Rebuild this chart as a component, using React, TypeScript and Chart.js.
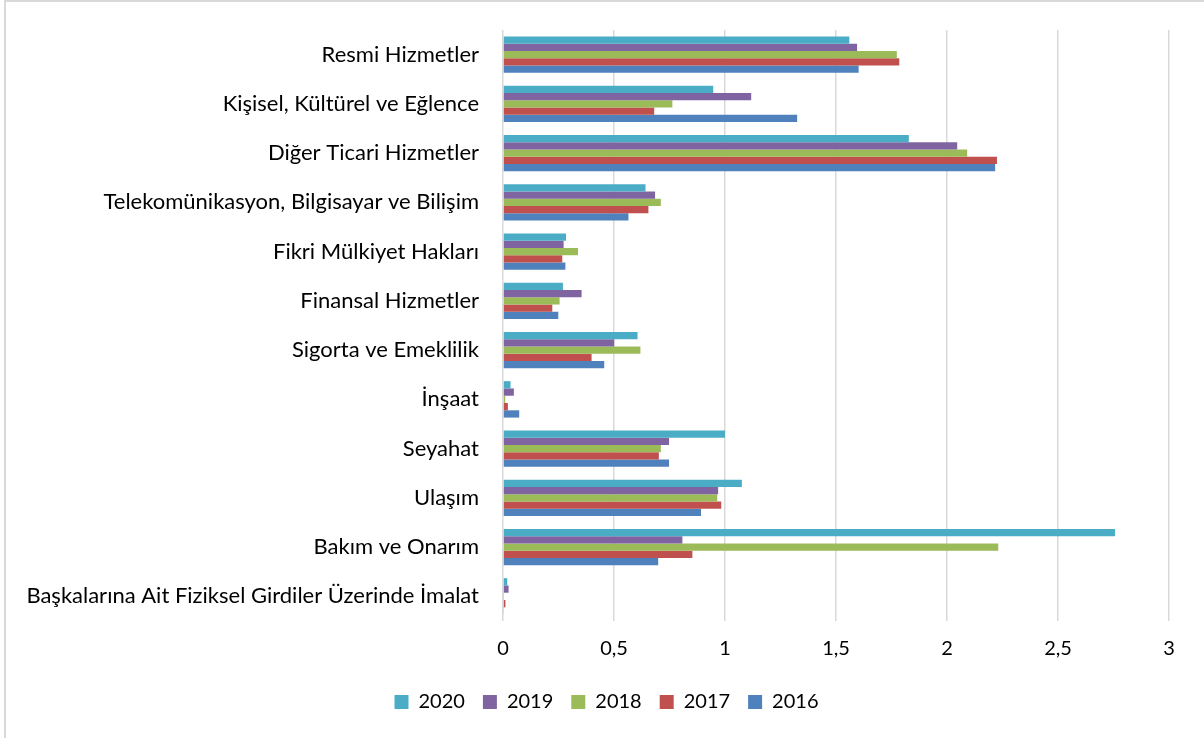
import React, { useEffect, useRef } from "react";
import { Chart, registerables } from "chart.js";

Chart.register(...registerables);

const categories = [
  "Resmi Hizmetler",
  "Kişisel, Kültürel ve Eğlence",
  "Diğer Ticari Hizmetler",
  "Telekomünikasyon, Bilgisayar ve Bilişim",
  "Fikri Mülkiyet Hakları",
  "Finansal Hizmetler",
  "Sigorta ve Emeklilik",
  "İnşaat",
  "Seyahat",
  "Ulaşım",
  "Bakım ve Onarım",
  "Başkalarına Ait Fiziksel Girdiler Üzerinde İmalat",
];

const years = ["2020", "2019", "2018", "2017", "2016"];

const v2020 = [1.56, 0.947, 1.828, 0.642, 0.284, 0.27, 0.606, 0.034, 1.0, 1.076, 2.757, 0.019];
const v2019 = [1.595, 1.118, 2.046, 0.685, 0.273, 0.354, 0.501, 0.049, 0.748, 0.969, 0.808, 0.025];
const v2018 = [1.774, 0.763, 2.091, 0.711, 0.338, 0.255, 0.619, 0.01, 0.711, 0.965, 2.231, 0.002];
const v2017 = [1.785, 0.681, 2.225, 0.655, 0.267, 0.222, 0.399, 0.022, 0.702, 0.983, 0.853, 0.011];
const v2016 = [1.602, 1.325, 2.217, 0.565, 0.281, 0.249, 0.456, 0.073, 0.748, 0.892, 0.699, 0.004];

const seriesValues = [v2020, v2019, v2018, v2017, v2016];
const colors = ["#4BACC6", "#8064A2", "#9BBB59", "#C0504D", "#4F81BD"];

const FONT = "Lato, 'Open Sans', sans-serif";

const legendShift = {
  id: "legendShift",
  afterLayout(chart: any) {
    const lg = chart.legend;
    if (lg) {
      lg.left += 22;
      lg.right += 22;
    }
  },
};

export default function App() {
  const ref = useRef<HTMLCanvasElement | null>(null);

  useEffect(() => {
    if (!ref.current) return;
    const chart = new Chart(ref.current, {
      type: "bar",
      data: {
        labels: categories,
        datasets: years.map((y, i) => ({
          label: y,
          data: seriesValues[i],
          backgroundColor: colors[i],
          borderWidth: 0,
          categoryPercentage: 0.74,
          barPercentage: 1.0,
        })),
      },
      plugins: [legendShift],
      options: {
        indexAxis: "y",
        animation: false,
        responsive: false,
        maintainAspectRatio: false,
        layout: { padding: { top: 30, right: 35, bottom: 16, left: 0 } },
        scales: {
          x: {
            min: 0,
            max: 3,
            ticks: {
              stepSize: 0.5,
              color: "#000",
              font: { family: FONT, size: 20 },
              padding: 16,
              callback: (v: any) => String(v).replace(".", ","),
            },
            grid: { color: "#D9D9D9", lineWidth: 1.5, drawTicks: false },
            border: { display: false },
            afterFit: (scale: any) => {
              scale.height = 53;
            },
          },
          y: {
            ticks: {
              color: "#000",
              font: { family: FONT, size: 22 },
              padding: 24,
              autoSkip: false,
            },
            grid: { display: false, drawTicks: false },
            border: { display: false },
            afterFit: (scale: any) => {
              scale.width = 503;
              scale.paddingTop = 0;
              scale.paddingBottom = 0;
            },
          },
        },
        plugins: {
          legend: {
            position: "bottom",
            labels: {
              color: "#000",
              font: { family: FONT, size: 20 },
              boxWidth: 14,
              boxHeight: 14,
              padding: 18,
            },
          },
          tooltip: { enabled: false },
        },
      },
    });
    return () => chart.destroy();
  }, []);

  return (
    <div style={{ position: "absolute", left: 0, top: 0, width: 1204, height: 738, background: "#fff" }}>
      <canvas ref={ref} width={1204} height={738} style={{ position: "absolute", left: 0, top: 0 }} />
      <div
        style={{
          position: "absolute",
          left: 4,
          top: 0,
          width: 1200,
          height: 738,
          borderTop: "2px solid #D9D9D9",
          borderLeft: "2px solid #D9D9D9",
          boxSizing: "border-box",
          pointerEvents: "none",
        }}
      />
    </div>
  );
}
